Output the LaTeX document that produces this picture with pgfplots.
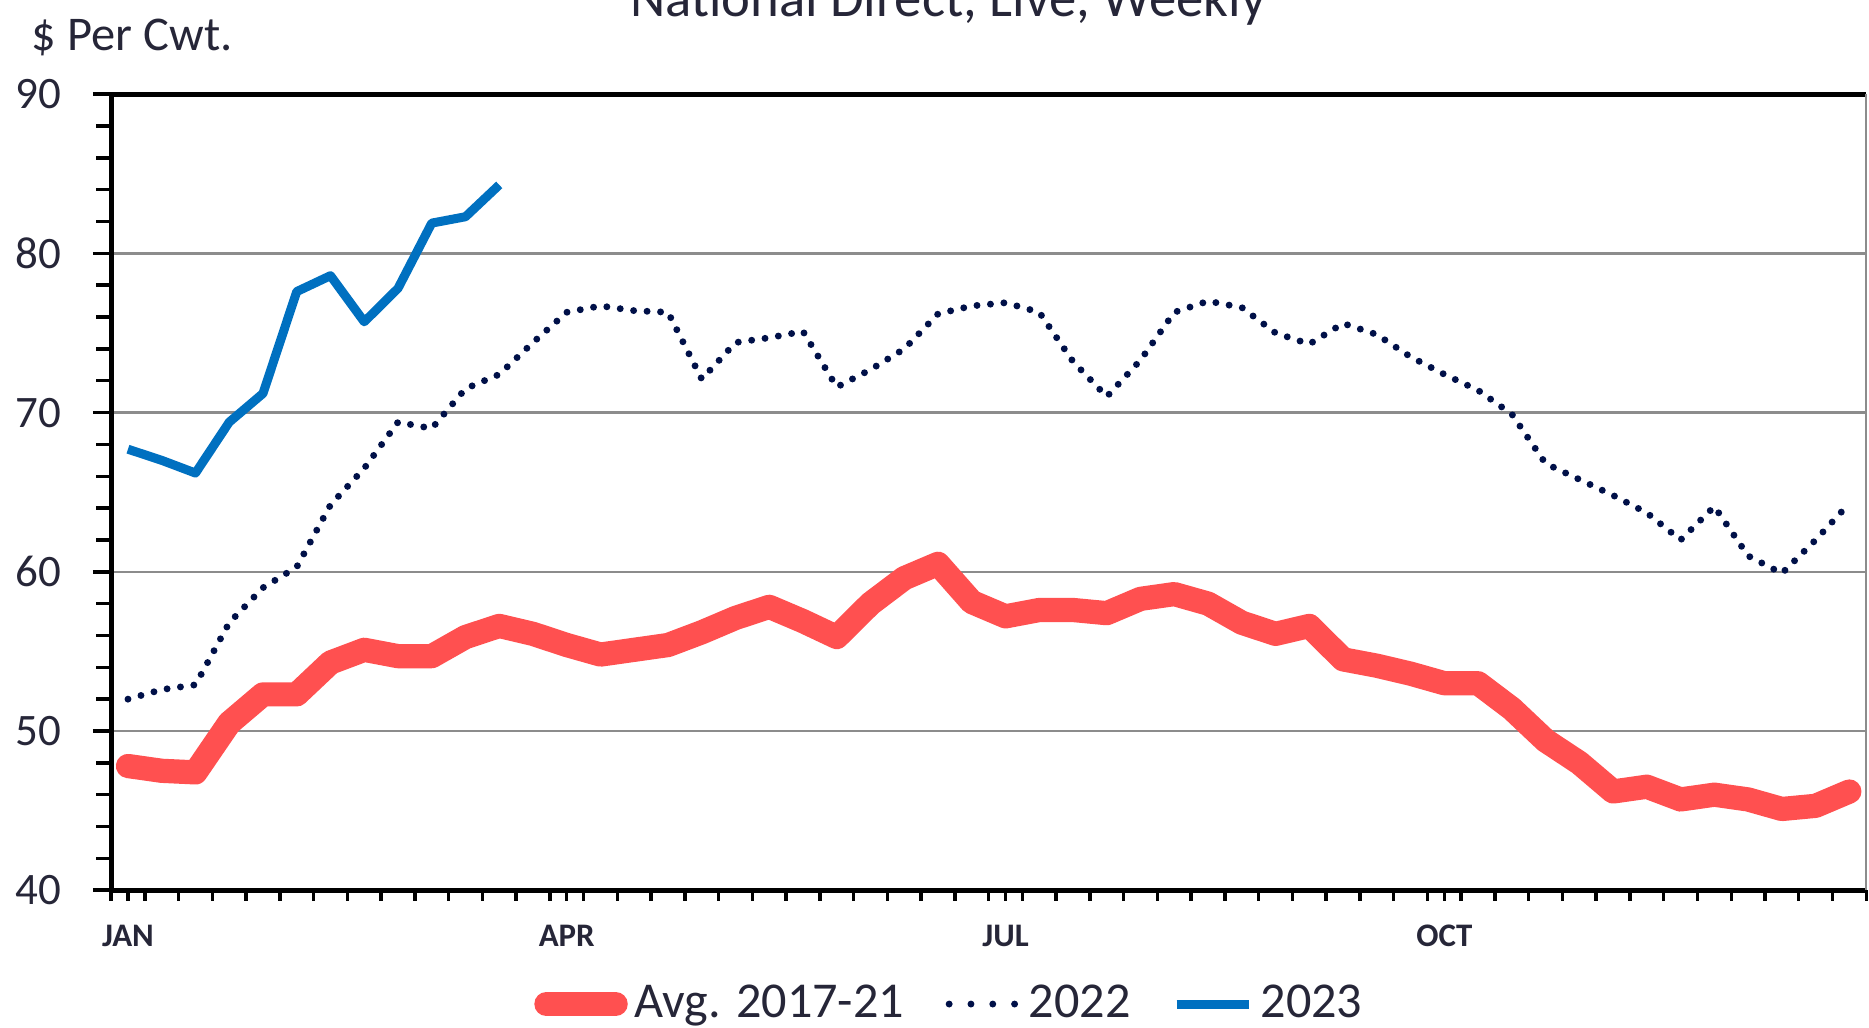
\documentclass[border=0pt]{standalone}
\usepackage{pgfplots}
\pgfplotsset{compat=1.18}
\usepackage{pgfplotstable}
\usepackage{fontspec}
\setmainfont{Carlito}

\definecolor{avgred}{RGB}{255,80,80}
\definecolor{blue23}{RGB}{0,112,192}
\definecolor{navy22}{RGB}{0,16,72}
\definecolor{gridgray}{RGB}{140,140,140}
\definecolor{txt}{RGB}{38,38,56}

\pgfplotsset{
  legline/.style={legend image code/.code={\draw[##1] (0pt,0pt) -- (#1,0pt);}},
  dotleg/.style={legend image code/.code={\draw[##1, dash pattern=on 0pt off 6.3pt] (1pt,0pt) -- (21pt,0pt);}},
}

\pgfplotstableread{
w avg y2022
1 47.8 52.0
2 47.5 52.6
3 47.4 52.9
4 50.5 56.8
5 52.3 59.0
6 52.3 60.3
7 54.3 64.2
8 55.1 66.5
9 54.7 69.4
10 54.7 69.0
11 55.9 71.5
12 56.6 72.4
13 56.1 74.4
14 55.4 76.3
15 54.8 76.7
16 55.1 76.4
17 55.4 76.3
18 56.2 72.1
19 57.1 74.4
20 57.8 74.7
21 56.9 75.1
22 55.9 71.6
23 58.0 72.7
24 59.6 74.0
25 60.5 76.2
26 58.1 76.7
27 57.2 76.9
28 57.6 76.3
29 57.6 73.2
30 57.4 71.0
31 58.3 73.3
32 58.6 76.3
33 58.0 77.0
34 56.8 76.6
35 56.1 75.0
36 56.6 74.3
37 54.5 75.6
38 54.1 74.9
39 53.6 73.5
40 53.0 72.4
41 53.0 71.4
42 51.4 69.9
43 49.4 66.8
44 48.0 65.8
45 46.2 64.8
46 46.5 63.7
47 45.7 62.0
48 46.0 64.1
49 45.7 61.0
50 45.1 59.9
51 45.3 62.0
52 46.2 64.3
}\datamain

\pgfplotstableread{
w y2023
1 67.7
2 67.0
3 66.2
4 69.4
5 71.2
6 77.6
7 78.6
8 75.7
9 77.8
10 81.9
11 82.3
12 84.3
}\datanew

\begin{document}
\begin{tikzpicture}
\begin{axis}[
  name=ax,
  at={(0,0)}, anchor=south west,
  scale only axis, width=507.1pt, height=230pt,
  xmin=0.5, xmax=52.5, ymin=40, ymax=90,
  axis x line*=bottom, axis y line*=left,
  axis line style={line width=1.5pt, black, -},
  ytick={40,50,...,90}, minor ytick={42,44,...,88},
  ymajorgrids, major grid style={gridgray, line width=0.7pt},
  xtick={0.5,1.5,...,52.5}, xticklabels={},
  xtick style={/pgfplots/major tick length=3pt},
  extra x ticks={1,14,27,40}, extra x tick labels={JAN,APR,JUL,OCT},
  extra x tick style={major tick length=0pt, xmajorgrids=false,
    xticklabel style={font=\fontsize{9.5}{11}\selectfont\bfseries, text=txt, yshift=-6.6pt}},
  tick align=outside, major tick length=5.3pt, minor tick length=4.3pt,
  tick style={black, line width=1pt},
  /pgf/number format/assume math mode=true,
  yticklabel style={font=\fontsize{13}{15}\selectfont, text=txt, xshift=-5.5pt},
  ylabel={\$ Per Cwt.},
  ylabel style={rotate=-90, at={(axis description cs:0.012,1.0717)}, anchor=center,
    font=\fontsize{14}{16}\selectfont, text=txt},
  legend style={at={(0.479,-0.143)}, anchor=center, draw=none, fill=none,
    legend columns=3, font=\fontsize{14.5}{16}\selectfont, text=txt,
    /tikz/every even column/.append style={column sep=10pt}},
  legend cell align=left,
]
\addplot[avgred, line width=7pt, line join=round, line cap=round, legline=20pt]
  table[x=w, y=avg] {\datamain};
\addlegendentry{Avg. 2017-21}
\addplot[navy22, line width=2pt, line cap=round, dash pattern=on 0pt off 3.9pt, dotleg]
  table[x=w, y=y2022] {\datamain};
\addlegendentry{2022}
\addplot[blue23, line width=2.6pt, line join=round, legline=21pt]
  table[x=w, y=y2023] {\datanew};
\addlegendentry{2023}
\end{axis}
\draw[black, line width=1.5pt] (ax.north west) -- (ax.north east);
\draw[gridgray, line width=0.5pt] (ax.north east) -- (ax.south east);
\node[anchor=base, font=\fontsize{15.8}{18}\selectfont, text=txt] at (241.8pt,252.4pt) {National Direct, Live, Weekly};
\pgfresetboundingbox
\useasboundingbox (-32.1pt,-39.8pt) rectangle (507.9pt,257.2pt);
\end{tikzpicture}
\end{document}
